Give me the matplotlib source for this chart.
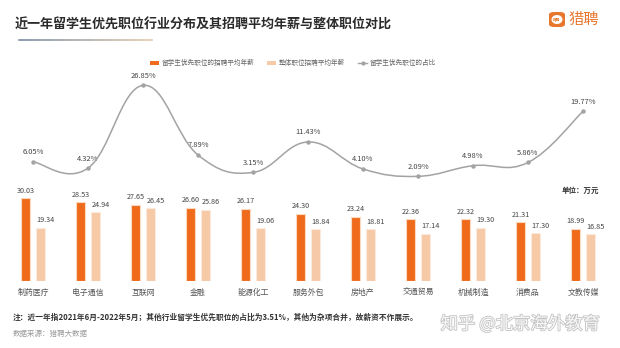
import matplotlib
matplotlib.use("Agg")
import matplotlib.pyplot as plt
import numpy as np
from matplotlib.path import Path
from matplotlib.patches import PathPatch, Patch, FancyBboxPatch, Ellipse
from matplotlib.lines import Line2D
import matplotlib.patheffects as pe

plt.rcParams['font.family'] = ['Noto Sans CJK SC', 'DejaVu Sans']

categories = ["制药医疗", "电子通信", "互联网", "金融", "能源化工", "服务外包",
              "房地产", "交通贸易", "机械制造", "消费品", "文教传媒"]
salary_intl = [30.03, 28.53, 27.65, 26.60, 26.17, 24.30, 23.24, 22.36, 22.32, 21.31, 18.99]
salary_all = [19.34, 24.94, 26.45, 25.86, 19.06, 18.84, 18.81, 17.14, 19.30, 17.30, 16.85]
share_pct = [6.05, 4.32, 26.85, 7.89, 3.15, 11.43, 4.10, 2.09, 4.98, 5.86, 19.77]

ORANGE = "#F06A1C"
PEACH = "#F6C9A7"
GRAY = "#A3A3A3"

W, H = 620, 348
fig = plt.figure(figsize=(W / 100, H / 100), dpi=100)
fig.patch.set_facecolor("white")

top_px, bot_px = 75, 281
ax = fig.add_axes([0, (H - bot_px) / H, 1, (bot_px - top_px) / H])
ax.set_facecolor("none")
x = np.arange(len(categories))
ax.set_xlim(-33 / 55, (W - 33) / 55)
ax.set_ylim(0, (bot_px - top_px) / 2.76)
for s in ax.spines.values():
    s.set_visible(False)
ax.set_yticks([])
ax.set_xticks(x)
ax.set_xticklabels(categories, fontsize=5.7, color="#555555")
ax.tick_params(axis="x", length=0, pad=5)

bw = 0.18
off = 0.137
ax.bar(x - off, salary_intl, bw, color=ORANGE, edgecolor="#FBD9BF", linewidth=0.8, zorder=3)
ax.bar(x + off, salary_all, bw, color=PEACH, edgecolor="#FCEBDD", linewidth=0.8, zorder=3)
for xi, v in zip(x, salary_intl):
    ax.annotate(f"{v:.2f}", (xi - off, v), xytext=(0, 2.5), textcoords="offset points",
                ha="center", va="bottom", fontsize=5.2, color="#444444")
for xi, v in zip(x, salary_all):
    ax.annotate(f"{v:.2f}", (xi + off, v), xytext=(3.6, 2.5), textcoords="offset points",
                ha="center", va="bottom", fontsize=5.2, color="#444444")

# line axis
ax2 = ax.twinx()
ax2.set_ylim(-(bot_px - 184) / 3.675, (184 - top_px) / 3.675)
ax2.set_yticks([])
for s in ax2.spines.values():
    s.set_visible(False)

pts = np.column_stack([x, share_pct]).astype(float)
sm = 0.2
verts = [tuple(pts[0])]
codes = [Path.MOVETO]
n = len(pts)
for i in range(n - 1):
    p0 = pts[i - 1] if i > 0 else pts[i]
    p1 = pts[i]
    p2 = pts[i + 1]
    p3 = pts[i + 2] if i + 2 < n else pts[i + 1]
    c1 = p1 + sm * (p2 - p0)
    c2 = p2 - sm * (p3 - p1)
    verts += [tuple(c1), tuple(c2), tuple(p2)]
    codes += [Path.CURVE4] * 3
ax2.add_patch(PathPatch(Path(verts, codes), facecolor="none", edgecolor=GRAY, lw=1.1, zorder=4))
ax2.plot(x, share_pct, linestyle="none", marker="o", markersize=2.2, color=GRAY, zorder=5)
for xi, v in zip(x, share_pct):
    ax2.annotate(f"{v:.2f}%", (xi, v), xytext=(0, 4), textcoords="offset points",
                 ha="center", va="bottom", fontsize=5.4, color="#444444")

# legend
handles = [Patch(facecolor=ORANGE, edgecolor="none"),
           Patch(facecolor=PEACH, edgecolor="none"),
           Line2D([0], [0], color=GRAY, lw=1, marker="o", markersize=2)]
labels = ["留学生优先职位的招聘平均年薪", "整体职位招聘平均年薪", "留学生优先职位的占比"]
fig.legend(handles, labels, loc="center", bbox_to_anchor=(293 / W, 1 - 63 / H), ncol=3,
           frameon=False, fontsize=4.8, handlelength=1.3, handleheight=0.6,
           columnspacing=2.0, handletextpad=0.4, labelcolor="#666666")

# title
fig.text(15 / W, 1 - 25 / H, "近一年留学生优先职位行业分布及其招聘平均年薪与整体职位对比",
         fontsize=9.4, fontweight="bold", color="#2b2b2b", va="center", ha="left")
# gradient underline
x0, x1, yl = 19, 152, 40
nseg = 60
c_start = np.array([0x8C, 0x9C, 0xB0]) / 255
c_end = np.array([0xE6, 0xD2, 0xB8]) / 255
for k in range(nseg):
    t = k / (nseg - 1)
    col = c_start * (1 - t) + c_end * t
    xa = x0 + (x1 - x0) * k / nseg
    xb = x0 + (x1 - x0) * (k + 1) / nseg
    fig.add_artist(Line2D([xa / W, xb / W], [1 - yl / H, 1 - yl / H], color=col, lw=1.3,
                          transform=fig.transFigure))

# logo
LOGO = "#E8772E"
fig.add_artist(FancyBboxPatch((549 / W, 1 - 27 / H), 16 / W, 15 / H,
                              boxstyle="round,pad=0,rounding_size=0.008",
                              transform=fig.transFigure, facecolor=LOGO, edgecolor="none"))
fig.add_artist(Ellipse((557 / W, 1 - 19.5 / H), 11 / W, 9 / H, transform=fig.transFigure,
                       facecolor="white", edgecolor="none"))
fig.text(557 / W, 1 - 19.5 / H, "猎聘", fontsize=2.6, color=LOGO, ha="center", va="center",
         fontweight="bold")
fig.text(568 / W, 1 - 19.5 / H, "猎聘", fontsize=11, color=LOGO, ha="left", va="center")

# unit
fig.text(599 / W, 1 - 190 / H, "单位：万元", fontsize=5.4, fontweight="bold", color="#333333",
         ha="right", va="center")

# notes
fig.text(13 / W, 1 - 317 / H,
         "注：近一年指2021年6月-2022年5月；其他行业留学生优先职位的占比为3.51%，其他为杂项合并，故薪资不作展示。",
         fontsize=5.55, fontweight="bold", color="#333333", ha="left", va="center")
fig.text(13 / W, 1 - 334 / H, "数据来源：猎聘大数据", fontsize=5.4, color="#999999",
         ha="left", va="center")

# watermark
wm1 = fig.text(600 / W, 1 - 324 / H, "知乎 @北京海外教育", fontsize=12.5, color="white",
               ha="right", va="center", alpha=0.9)
wm1.set_path_effects([pe.withStroke(linewidth=1.2, foreground="#bdbdbd")])

fig.savefig("out.png", dpi=100, facecolor="white")
